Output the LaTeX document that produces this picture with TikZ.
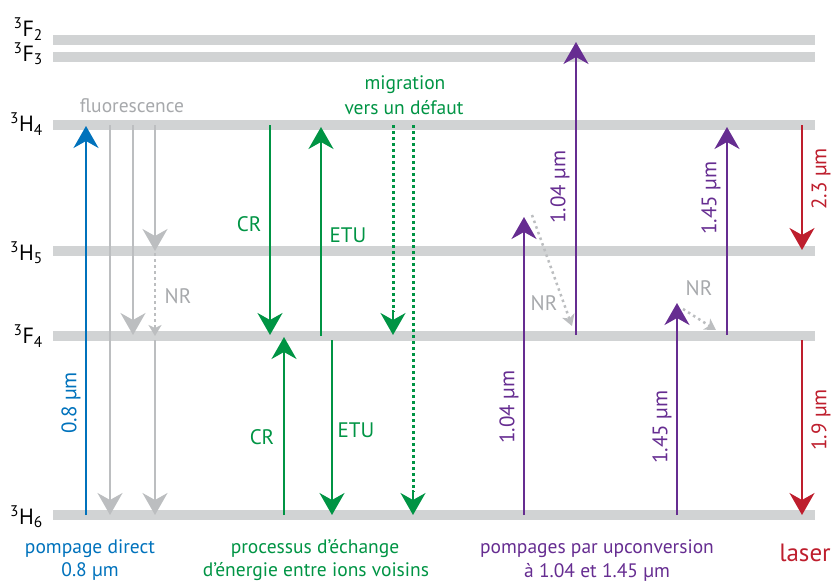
\documentclass[tikz,border=0pt]{standalone}
\usepackage{fontspec}
\setmainfont{PT Sans}
\usetikzlibrary{arrows.meta}
\definecolor{pumpblue}{RGB}{0,114,188}
\definecolor{xgreen}{RGB}{0,148,68}
\definecolor{upviolet}{RGB}{102,45,145}
\definecolor{laserred}{RGB}{190,30,45}
\definecolor{lvlgray}{RGB}{209,211,212}
\definecolor{nrgray}{RGB}{188,190,192}
\definecolor{txtgray}{RGB}{167,169,172}

\tikzset{
  lvl/.style={lvlgray, line width=10.5pt},
  tr/.style={line width=2pt, -{Stealth[length=22pt, width=25pt, inset=7pt]}},
  nr/.style={nrgray, line width=2.5pt, dash pattern=on 2.5pt off 3.5pt,
    -{Stealth[length=11pt, width=13pt, inset=3pt]}},
  migr/.style={line width=3pt, dash pattern=on 2.8pt off 3.2pt},
  txt/.style={font=\fontsize{19.5}{23}\selectfont, inner sep=0pt},
  lbl/.style={font=\fontsize{21}{25}\selectfont, inner sep=0pt},
  lvllab/.style={font=\fontsize{22}{26}\selectfont, anchor=east, inner sep=0pt},
}

\begin{document}
\begin{tikzpicture}[x=1pt, y=-1pt]
    \useasboundingbox (0,0) rectangle (831,581);
    % levels
    \foreach \yy in {40,57,125,251,336,515}
        \draw[lvl] (53,\yy) -- (815,\yy);
    \node[lvllab] (lF2) at (43,29) {\textsuperscript{3}F\textsubscript{2}};
    \node[lvllab] (lF3) at (43,54) {\textsuperscript{3}F\textsubscript{3}};
    \node[lvllab] (lH4) at (43,124) {\textsuperscript{3}H\textsubscript{4}};
    \node[lvllab] (lH5) at (43,253) {\textsuperscript{3}H\textsubscript{5}};
    \node[lvllab] (lF4) at (43,336) {\textsuperscript{3}F\textsubscript{4}};
    \node[lvllab] (lH6) at (43,517) {\textsuperscript{3}H\textsubscript{6}};

    % pompage direct
    \draw[tr, pumpblue] (86,515) -- (86,126);
    \node[lbl, pumpblue, rotate=90] (p08) at (71,403) {0.8 µm};
    \draw[tr, nrgray] (110,125) -- (110,515);
    \draw[tr, nrgray] (133,125) -- (133,335);
    \draw[tr, nrgray] (155,125) -- (155,251);
    \draw[nr] (155,253) -- (155,336);
    \draw[tr, nrgray] (155,340) -- (155,515);
    \node[txt, txtgray] (fluo) at (132,106) {fluorescence};
    \node[lbl, txtgray] (nr1) at (178,296) {NR};
    \node[txt, pumpblue] (pd1) at (90,549) {pompage direct};
    \node[txt, pumpblue] (pd2) at (90,572) {0.8 µm};

    % echange d'energie
    \draw[tr, xgreen] (270,125) -- (270,335);
    \draw[tr, xgreen] (321,336) -- (321,127);
    \draw[tr, xgreen] (284,515) -- (284,337);
    \draw[tr, xgreen] (332,340) -- (332,515);
    \draw[migr, xgreen] (393,125) -- (393,312);
    \draw[tr, xgreen] (393,310) -- (393,335);
    \draw[migr, xgreen] (413,125) -- (413,492);
    \draw[tr, xgreen] (413,490) -- (413,515);
    \node[lbl, xgreen] (cr1) at (249,224) {CR};
    \node[lbl, xgreen] (etu1) at (348,235) {ETU};
    \node[lbl, xgreen] (cr2) at (262,437) {CR};
    \node[lbl, xgreen] (etu2) at (356,430) {ETU};
    \node[txt, xgreen] (mig1) at (405,85) {migration};
    \node[txt, xgreen] (mig2) at (404,108) {vers un défaut};
    \node[txt, xgreen] (pe1) at (315,549) {processus d’échange};
    \node[txt, xgreen] (pe2) at (316,572) {d’énergie entre ions voisins};

    % upconversion
    \draw[tr, upviolet] (524,515) -- (524,217);
    \draw[nr] (532,215) -- (572,326);
    \draw[tr, upviolet] (576,335) -- (576,42);
    \draw[tr, upviolet] (677,515) -- (677,303);
    \draw[nr] (683,309) -- (716,330);
    \draw[tr, upviolet] (727,335) -- (727,127);
    \node[lbl, upviolet, rotate=90] (w1) at (509,407) {1.04 µm};
    \node[lbl, upviolet, rotate=90] (w2) at (560,187) {1.04 µm};
    \node[lbl, upviolet, rotate=90] (w3) at (662,427) {1.45 µm};
    \node[lbl, upviolet, rotate=90] (w4) at (711,198) {1.45 µm};
    \node[lbl, txtgray] (nr2) at (544,303) {NR};
    \node[lbl, txtgray] (nr3) at (699,288) {NR};
    \node[txt, upviolet] (up1) at (597,549) {pompages par upconversion};
    \node[txt, upviolet] (up2) at (597,572) {à 1.04 et 1.45 µm};

    % laser
    \draw[tr, laserred] (802,125) -- (802,250);
    \draw[tr, laserred] (802,340) -- (802,515);
    \node[lbl, laserred, rotate=90] (w5) at (821,179) {2.3 µm};
    \node[lbl, laserred, rotate=90] (w6) at (821,420) {1.9 µm};
    \node[laserred, font=\fontsize{25}{29}\selectfont, inner sep=0pt] (las) at (805,553) {laser};
\end{tikzpicture}
\end{document}
